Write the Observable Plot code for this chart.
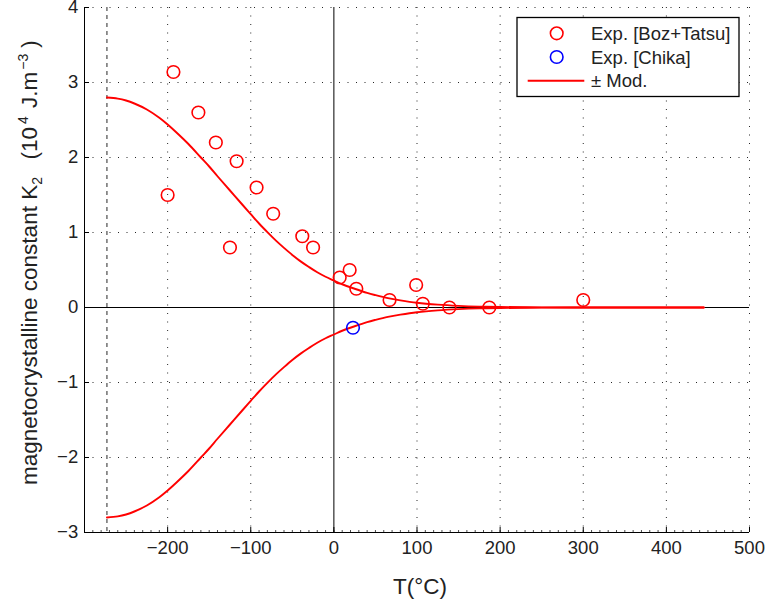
<!DOCTYPE html>
<html><head><meta charset="utf-8">
<script src="https://cdn.jsdelivr.net/npm/d3@7"></script>
<script src="https://cdn.jsdelivr.net/npm/@observablehq/plot@0.6"></script>
<style>body{margin:0;background:#fff}#chart{width:767px;height:608px}</style>
</head><body><div id="chart"></div>
<script>
// ---- data ----
const xTicks = [-200, -100, 0, 100, 200, 300, 400, 500];
const yTicks = [-3, -2, -1, 0, 1, 2, 3, 4];
const xGridVals = [-200, -100, 100, 200, 300, 400, 500];
const yGridVals = [-2, -1, 1, 2, 3, 4];
const xMinor = d3.range(-290, 500, 10);
const absoluteZero = -273;

// Exp. [Boz+Tatsu]
const bozT = [-200, -193, -163, -142, -125, -117, -93, -73, -38, -25, 7, 19, 27, 67, 99, 107, 139, 187, 300];
const bozK = [1.50, 3.14, 2.60, 2.20, 0.80, 1.95, 1.60, 1.25, 0.95, 0.80, 0.40, 0.50, 0.25, 0.10, 0.30, 0.05, 0.00, 0.00, 0.10];
// Exp. [Chika]
const chikaT = [23];
const chikaK = [-0.27];
// ± Mod. (upper branch; lower branch is its negative)
const modT = [-273, -260, -250, -240, -225, -210, -200, -190, -175, -160, -150, -140, -125, -110, -100, -90, -80, -70, -60, -50, -40, -30, -20, -10, 0, 10, 25, 40, 50, 65, 80, 100, 125, 150, 175, 200, 250, 300, 350, 445];
const modK = [2.80, 2.785, 2.76, 2.72, 2.64, 2.53, 2.44, 2.34, 2.18, 2.00, 1.88, 1.75, 1.56, 1.37, 1.245, 1.12, 1.005, 0.895, 0.795, 0.70, 0.615, 0.54, 0.47, 0.41, 0.36, 0.31, 0.25, 0.195, 0.165, 0.125, 0.095, 0.063, 0.038, 0.022, 0.012, 0.007, 0.002, 0.0007, 0.0002, 0.0];

const boz = bozT.map((t, i) => ({T: t, K: bozK[i]}));
const chika = chikaT.map((t, i) => ({T: t, K: chikaK[i]}));
const model = modT.map((t, i) => ({T: t, K: modK[i]}));

const font = "'Liberation Sans', Arial, Helvetica, sans-serif";
const gridStyle = {stroke: "#000", strokeOpacity: 0.85, strokeDasharray: "1,7.5"};
const fmt = d => d < 0 ? "\u2212" + Math.abs(d) : String(d);

const chart = Plot.plot({
  width: 767, height: 608,
  marginLeft: 84, marginRight: 18, marginTop: 7, marginBottom: 76,
  style: {fontFamily: font, fontSize: "18.5px", color: "#000", background: "#fff", overflow: "visible"},
  x: {domain: [-300, 500], label: null},
  y: {domain: [-3, 4], label: null},
  marks: [
    Plot.gridX(xGridVals, gridStyle),
    Plot.gridY(yGridVals, gridStyle),
    Plot.ruleX([absoluteZero], {stroke: "#000", strokeDasharray: "4,4", strokeOpacity: 0.85}),
    Plot.ruleX([0], {stroke: "#000"}),
    Plot.ruleY([0], {stroke: "#000"}),
    Plot.ruleX([-300], {stroke: "#000"}),
    Plot.ruleY([-3], {stroke: "#000"}),
    Plot.axisX(xMinor, {tickSize: -2, tickFormat: () => "", label: null, strokeOpacity: 0.7}),
    Plot.axisX(xTicks, {tickSize: -5, tickPadding: 13.4, tickFormat: fmt, label: null, fill: "#222"}),
    Plot.axisY(yTicks, {tickSize: -5, tickPadding: 11.3, tickFormat: fmt, label: null, fill: "#222"}),
    Plot.line(model, {x: "T", y: "K", stroke: "#ff0000", strokeWidth: 1.9, curve: "catmull-rom"}),
    Plot.line(model, {x: "T", y: d => -d.K, stroke: "#ff0000", strokeWidth: 1.9, curve: "catmull-rom"}),
    Plot.dot(boz, {x: "T", y: "K", r: 6.3, stroke: "#ff0000", strokeWidth: 1.6, fill: "none"}),
    Plot.dot(chika, {x: "T", y: "K", r: 6.3, stroke: "#0000ff", strokeWidth: 1.6, fill: "none"})
  ]
});
document.getElementById("chart").appendChild(chart);

const svg = d3.select(chart);
// x label
svg.append("text").attr("x", 420).attr("y", 594).attr("text-anchor", "middle")
  .attr("font-family", font).attr("font-size", 22.5).attr("fill", "#222").text("T(°C)");
// y label with sub/superscripts
const yl = svg.append("text").attr("transform", "translate(37,485) rotate(-90)")
  .attr("text-anchor", "start")
  .attr("font-family", font).attr("font-size", 22.5).attr("fill", "#222");
yl.append("tspan").text("magnetocrystalline constant K");
yl.append("tspan").attr("font-size", 14).attr("dy", 5).text("2");
yl.append("tspan").attr("dy", -5).attr("dx", 5).text("\u00a0\u00a0(10");
yl.append("tspan").attr("font-size", 14).attr("dy", -9).attr("dx", 3).text("4");
yl.append("tspan").attr("dy", 9).attr("dx", 2).text("\u00a0J.m");
yl.append("tspan").attr("font-size", 14).attr("dy", -9).attr("dx", 2).text("\u22123");
yl.append("tspan").attr("dy", 9).attr("dx", 6).text(")");

// legend
const lg = svg.append("g").attr("text-anchor", "start");
lg.append("rect").attr("x", 517).attr("y", 17.5).attr("width", 222).attr("height", 79)
  .attr("fill", "#fff").attr("stroke", "#000").attr("stroke-width", 1.3);
lg.append("circle").attr("cx", 556.7).attr("cy", 33.3).attr("r", 6.3).attr("fill", "none").attr("stroke", "#ff0000").attr("stroke-width", 1.6);
lg.append("circle").attr("cx", 556.7).attr("cy", 57).attr("r", 6.3).attr("fill", "none").attr("stroke", "#0000ff").attr("stroke-width", 1.6);
lg.append("line").attr("x1", 527.7).attr("x2", 584.3).attr("y1", 80.7).attr("y2", 80.7).attr("stroke", "#ff0000").attr("stroke-width", 1.9);
const legTexts = [["Exp. [Boz+Tatsu]", 40], ["Exp. [Chika]", 63.5], ["\u00b1 Mod.", 87.3]];
legTexts.forEach(([t, y]) => lg.append("text").attr("x", 591).attr("y", y).attr("text-anchor", "start")
  .attr("font-family", font).attr("font-size", 18.5).attr("fill", "#222").text(t));
</script>
</body></html>
